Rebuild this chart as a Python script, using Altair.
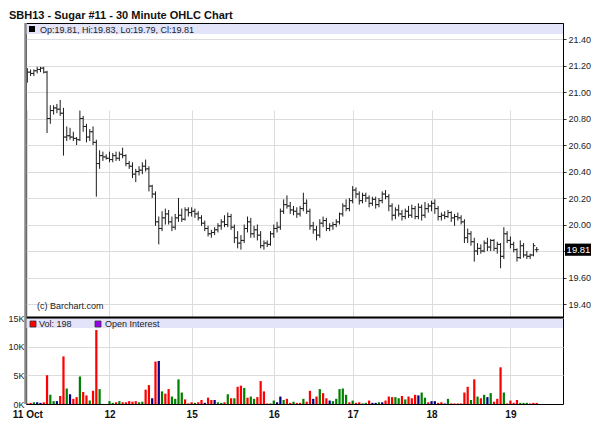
import altair as alt
import pandas as pd

title_text = "SBH13 - Sugar #11 - 30 Minute OHLC Chart"
day_labels = ["11 Oct", "12", "15", "16", "17", "18", "19"]
price_ticks = [19.4, 19.6, 19.8, 20.0, 20.2, 20.4, 20.6, 20.8, 21.0, 21.2, 21.4]
vol_ticks = [0, 5, 10, 15]

# (open, high, low, close) per 30-minute bar, one list per trading day
ohlc_11 = [
    (21.17, 21.18, 21.07, 21.15), (21.15, 21.17, 21.12, 21.14), (21.14, 21.17, 21.12, 21.16),
    (21.16, 21.19, 21.14, 21.17), (21.17, 21.19, 21.15, 21.18), (21.18, 21.19, 21.14, 21.15),
    (21.15, 21.16, 20.69, 20.80), (20.80, 20.90, 20.76, 20.86), (20.86, 20.90, 20.83, 20.88),
    (20.88, 20.91, 20.84, 20.87), (20.87, 20.94, 20.82, 20.84), (20.84, 20.88, 20.52, 20.66),
    (20.66, 20.74, 20.63, 20.67), (20.67, 20.73, 20.64, 20.66), (20.66, 20.70, 20.63, 20.65),
    (20.65, 20.66, 20.60, 20.64), (20.64, 20.86, 20.63, 20.80), (20.80, 20.82, 20.70, 20.74),
    (20.74, 20.76, 20.62, 20.66), (20.66, 20.72, 20.63, 20.70), (20.70, 20.74, 20.60, 20.62),
    (20.62, 20.64, 20.21, 20.46), (20.46, 20.56, 20.42, 20.52), (20.52, 20.55, 20.48, 20.51),
    (20.51, 20.53, 20.49, 20.50),
]
ohlc_12 = [
    (20.50, 20.55, 20.47, 20.49), (20.49, 20.54, 20.47, 20.52), (20.52, 20.55, 20.48, 20.50),
    (20.50, 20.55, 20.48, 20.53), (20.53, 20.58, 20.50, 20.52), (20.52, 20.53, 20.44, 20.46),
    (20.46, 20.48, 20.42, 20.44), (20.44, 20.47, 20.35, 20.38), (20.38, 20.42, 20.32, 20.40),
    (20.40, 20.44, 20.37, 20.41), (20.41, 20.47, 20.38, 20.44), (20.44, 20.49, 20.40, 20.42),
    (20.42, 20.44, 20.25, 20.29), (20.29, 20.30, 20.20, 20.23), (20.23, 20.25, 19.99, 20.02),
    (20.02, 20.06, 19.85, 19.97), (19.97, 20.10, 19.95, 20.05), (20.05, 20.12, 20.00, 20.08),
    (20.08, 20.11, 20.00, 20.02), (20.02, 20.06, 19.95, 19.98), (19.98, 20.08, 19.96, 20.05),
    (20.05, 20.20, 20.02, 20.07), (20.07, 20.12, 20.02, 20.04), (20.04, 20.13, 20.03, 20.11),
    (20.11, 20.13, 20.06, 20.09),
]
ohlc_15 = [
    (20.09, 20.13, 20.06, 20.10), (20.10, 20.12, 20.05, 20.08), (20.08, 20.10, 20.03, 20.05),
    (20.05, 20.07, 19.99, 20.01), (20.01, 20.03, 19.95, 19.97), (19.97, 19.99, 19.91, 19.93),
    (19.93, 19.96, 19.90, 19.94), (19.94, 19.98, 19.92, 19.96), (19.96, 20.01, 19.94, 19.99),
    (19.99, 20.04, 19.96, 20.02), (20.02, 20.07, 19.98, 20.00), (20.00, 20.09, 19.98, 20.06),
    (20.06, 20.08, 19.96, 19.98), (19.98, 20.00, 19.86, 19.90), (19.90, 19.95, 19.82, 19.86),
    (19.86, 19.92, 19.81, 19.88), (19.88, 20.00, 19.86, 19.97), (19.97, 20.06, 19.94, 20.02),
    (20.02, 20.05, 19.90, 19.93), (19.93, 19.99, 19.90, 19.96), (19.96, 20.00, 19.88, 19.92),
    (19.92, 19.95, 19.82, 19.84), (19.84, 19.88, 19.81, 19.86), (19.86, 19.88, 19.83, 19.85),
    (19.85, 19.95, 19.84, 19.93),
]
ohlc_16 = [
    (19.93, 20.00, 19.90, 19.97), (19.97, 20.02, 19.94, 19.98), (19.98, 20.12, 19.96, 20.10),
    (20.10, 20.19, 20.08, 20.15), (20.15, 20.22, 20.12, 20.14), (20.14, 20.17, 20.08, 20.11),
    (20.11, 20.14, 20.07, 20.10), (20.10, 20.13, 20.05, 20.08), (20.08, 20.14, 20.06, 20.12),
    (20.12, 20.24, 20.10, 20.16), (20.16, 20.19, 20.08, 20.10), (20.10, 20.12, 19.96, 19.99),
    (19.99, 20.02, 19.93, 19.96), (19.96, 19.99, 19.88, 19.92), (19.92, 20.04, 19.90, 20.01),
    (20.01, 20.06, 19.98, 20.03), (20.03, 20.05, 19.95, 19.97), (19.97, 20.01, 19.95, 19.99),
    (19.99, 20.02, 19.96, 20.00), (20.00, 20.04, 19.98, 20.02), (20.02, 20.09, 20.00, 20.08),
    (20.08, 20.16, 20.06, 20.14), (20.14, 20.19, 20.10, 20.12), (20.12, 20.20, 20.10, 20.18),
]
ohlc_17 = [
    (20.18, 20.29, 20.16, 20.26), (20.26, 20.28, 20.20, 20.23), (20.23, 20.25, 20.15, 20.18),
    (20.18, 20.24, 20.16, 20.22), (20.22, 20.24, 20.17, 20.20), (20.20, 20.22, 20.13, 20.16),
    (20.16, 20.21, 20.14, 20.19), (20.19, 20.21, 20.12, 20.15), (20.15, 20.20, 20.13, 20.18),
    (20.18, 20.25, 20.16, 20.23), (20.23, 20.26, 20.19, 20.21), (20.21, 20.23, 20.10, 20.14),
    (20.14, 20.16, 20.03, 20.07), (20.07, 20.13, 20.04, 20.11), (20.11, 20.15, 20.06, 20.08),
    (20.08, 20.11, 20.03, 20.06), (20.06, 20.12, 20.04, 20.10), (20.10, 20.14, 20.05, 20.07),
    (20.07, 20.15, 20.05, 20.12), (20.12, 20.14, 20.04, 20.06), (20.06, 20.16, 20.04, 20.13),
    (20.13, 20.15, 20.03, 20.07), (20.07, 20.17, 20.05, 20.12), (20.12, 20.16, 20.09, 20.14),
]
ohlc_18 = [
    (20.14, 20.18, 20.10, 20.16), (20.16, 20.19, 20.08, 20.12), (20.12, 20.14, 20.03, 20.06),
    (20.06, 20.09, 20.03, 20.07), (20.07, 20.10, 20.04, 20.06), (20.06, 20.11, 20.05, 20.09),
    (20.09, 20.10, 20.02, 20.05), (20.05, 20.08, 19.99, 20.06), (20.06, 20.09, 20.03, 20.05),
    (20.05, 20.07, 20.00, 20.02), (20.02, 20.04, 19.86, 19.90), (19.90, 19.97, 19.86, 19.93),
    (19.93, 19.95, 19.84, 19.87), (19.87, 19.90, 19.72, 19.80), (19.80, 19.86, 19.77, 19.82),
    (19.82, 19.85, 19.78, 19.80), (19.80, 19.88, 19.79, 19.86), (19.86, 19.90, 19.80, 19.83),
    (19.83, 19.89, 19.80, 19.88), (19.88, 19.89, 19.80, 19.82), (19.82, 19.87, 19.78, 19.85),
    (19.85, 19.86, 19.67, 19.76), (19.76, 19.98, 19.74, 19.93), (19.93, 19.95, 19.86, 19.88),
]
ohlc_19 = [
    (19.88, 19.91, 19.82, 19.85), (19.85, 19.87, 19.79, 19.81), (19.81, 19.82, 19.72, 19.75),
    (19.75, 19.88, 19.74, 19.84), (19.84, 19.86, 19.75, 19.77), (19.77, 19.80, 19.74, 19.76),
    (19.76, 19.78, 19.74, 19.77), (19.77, 19.86, 19.76, 19.84), (19.81, 19.83, 19.79, 19.81),
]

# volume (thousands) and colour code per bar: r = red, g = green, n = navy
vol_11 = [0.1, 0.2, 0.3, 0.3, 0.2, 0.3, 5.0, 1.6, 0.5, 0.5, 1.4, 8.3, 2.7, 1.7, 0.9, 1.2, 4.8, 2.1, 1.5, 0.6, 2.3, 12.9, 2.6, 0.0, 0.0]
col_11 = "rrgnnrrggnrrgnrrgrrgrrgrg"
vol_12 = [0.5, 0.2, 0.3, 0.5, 0.3, 0.3, 0.5, 0.4, 0.5, 0.3, 0.4, 2.5, 3.3, 1.0, 7.4, 7.5, 2.2, 1.8, 2.6, 1.3, 0.9, 4.3, 2.0, 0.8, 0.1]
col_12 = "ggrgrrrrrggrrnrngrrggggrr"
vol_15 = [0.3, 0.2, 0.3, 0.7, 0.2, 1.1, 0.7, 0.7, 0.3, 0.2, 0.3, 1.7, 1.0, 1.0, 3.0, 3.2, 2.8, 1.1, 1.3, 0.9, 1.2, 4.0, 2.2, 0.1, 0.1]
col_15 = "rgrrnrrnggrgrgrrgrggrrrrg"
vol_16 = [0.6, 0.3, 1.3, 0.7, 0.9, 0.2, 0.4, 0.2, 0.2, 0.9, 0.4, 2.3, 0.9, 1.3, 2.6, 1.9, 1.0, 0.6, 0.5, 0.9, 2.6, 2.7, 1.6, 0.3]
col_16 = "gnngrrgrrgrrnrgrrngggggrg"[:24]
vol_17 = [0.6, 0.2, 0.3, 0.1, 0.2, 0.6, 0.2, 0.2, 0.3, 0.3, 0.6, 1.3, 1.2, 1.2, 1.0, 1.4, 0.8, 1.3, 1.0, 1.6, 1.5, 2.0, 1.1, 0.3]
col_17 = "grrggrnngnrrrggrgrrrnggr"
vol_18 = [0.5, 0.5, 0.2, 0.3, 0.1, 0.9, 0.1, 0.1, 0.1, 0.1, 2.0, 3.0, 0.7, 4.3, 1.3, 1.0, 1.6, 1.2, 1.9, 0.4, 0.9, 6.4, 2.0, 0.1]
col_18 = "nnrrngrrrrrrgrgrgngrrrgr"
vol_19 = [0.6, 0.2, 0.7, 0.2, 0.2, 0.2, 0.1, 0.2, 0.198]
col_19 = "rrrgggrrr"

days_ohlc = [ohlc_11, ohlc_12, ohlc_15, ohlc_16, ohlc_17, ohlc_18, ohlc_19]
days_vol = [vol_11, vol_12, vol_15, vol_16, vol_17, vol_18, vol_19]
days_col = [col_11, col_12, col_15, col_16, col_17, col_18, col_19]

rows = []
starts = []
idx = 0
for o_list, v_list, c_list in zip(days_ohlc, days_vol, days_col):
    starts.append(idx)
    for (op, hi, lo, cl), v, c in zip(o_list, v_list, c_list):
        rows.append(dict(i=idx, open=op, high=hi, low=lo, close=cl, vol=v, col=c))
        idx += 1
df = pd.DataFrame(rows)
df["ol"] = df["i"] - 0.6
df["cr"] = df["i"] + 0.6
df["vl"] = df["i"] - 0.34
df["vr"] = df["i"] + 0.34
df["zero"] = 0.0

last = df.iloc[-1]
last_txt = f"{last['close']:.2f}"
last_df = pd.DataFrame([dict(close=last["close"], ylo=last["close"] - 0.046,
                             yhi=last["close"] + 0.046, txt=last_txt)])
legend_price = f"Op:{last['open']:.2f}, Hi:{last['high']:.2f}, Lo:{last['low']:.2f}, Cl:{last['close']:.2f}"
legend_vol = f"Vol: {round(last['vol'] * 1000)}"

W, H = 537, 381
P_BOT = 294   # bottom of price panel (view px)
V_TOP = 295   # top of volume panel (view px)
FONT = "Liberation Sans"
GRID = "#DCDCDC"

label_expr = " : ".join(f"datum.value == {s} ? '{l}'" for s, l in zip(starts, day_labels)) + " : ''"
# the tick label hidden under the last-price box is left blank
hidden_tick = round(last["close"] / 0.2) * 0.2
price_label_expr = f"abs(datum.value - {hidden_tick:.2f}) < 0.001 ? '' : format(datum.value, '.2f')"

xs = alt.Scale(domain=[-0.4, 163], nice=False, zero=False)
ps = alt.Scale(domain=[19.302, 21.5208], range=[P_BOT, 0], nice=False, zero=False)
vs = alt.Scale(domain=[0, 15], range=[H, V_TOP], nice=False, zero=False)

xax = alt.Axis(values=starts, labelExpr=label_expr, grid=True, gridColor=GRID, tickSize=0,
               labelPadding=5, labelFontSize=10, labelFontWeight="bold", labelColor="#111",
               labelFont=FONT, domainColor="#000", title=None, labelFlush=False, labelOverlap=False)
pax = alt.Axis(orient="right", values=price_ticks, labelExpr=price_label_expr, grid=True,
               gridColor=GRID, tickSize=3, tickColor="#333", labelPadding=2, labelFontSize=9,
               labelColor="#222", labelFont=FONT, domainColor="#000", title=None,
               labelFlush=False, labelOverlap=False)
vax = alt.Axis(orient="left", values=vol_ticks, labelExpr="datum.value + 'K'", grid=True,
               gridColor=GRID, tickSize=0, labelPadding=2, labelFontSize=9, labelColor="#222",
               labelFont=FONT, domain=False, title=None, labelFlush=False, labelOverlap=False)

base = alt.Chart(df)
X = lambda f: alt.X(f"{f}:Q", scale=xs, axis=xax)
BAR_COL = "#1c1c1c"

hl = base.mark_rule(color=BAR_COL, strokeWidth=1).encode(
    x=X("i"), y=alt.Y("low:Q", scale=ps, axis=pax), y2="high:Q")
op_t = base.mark_rule(color=BAR_COL, strokeWidth=1).encode(
    x=X("ol"), x2="i:Q", y=alt.Y("open:Q", scale=ps, axis=pax))
cl_t = base.mark_rule(color=BAR_COL, strokeWidth=1).encode(
    x=X("i"), x2="cr:Q", y=alt.Y("close:Q", scale=ps, axis=pax))
box = alt.Chart(last_df).mark_rect(color="#000").encode(
    x=alt.value(W + 2), x2=alt.value(W + 29),
    y=alt.Y("ylo:Q", scale=ps, axis=pax), y2="yhi:Q")
box_t = alt.Chart(last_df).mark_text(color="#fff", fontSize=9.5, font=FONT, align="center",
                                     baseline="middle").encode(
    x=alt.value(W + 15.5), y=alt.Y("close:Q", scale=ps, axis=pax), text="txt:N")
price = alt.layer(hl, op_t, cl_t, box, box_t)

vbars = base.mark_rect().encode(
    x=X("vl"), x2="vr:Q", y=alt.Y("vol:Q", scale=vs, axis=vax), y2="zero:Q",
    color=alt.Color("col:N", scale=alt.Scale(domain=["r", "g", "n"],
                                             range=["#FF0000", "#008000", "#000080"]), legend=None))
volume = alt.layer(vbars)

one = pd.DataFrame({"k": [0]})


def rect(x, x2, y, y2, color, stroke=None):
    kw = dict(color=color)
    if stroke:
        kw.update(stroke=stroke, strokeWidth=0.8)
    return alt.Chart(one).mark_rect(**kw).encode(
        x=alt.value(x), x2=alt.value(x2), y=alt.value(y), y2=alt.value(y2))


def text(t, x, y, size=9, weight="normal", color="#222", baseline="middle"):
    return alt.Chart(one).mark_text(text=t, fontSize=size, fontWeight=weight, color=color,
                                    align="left", baseline=baseline, font=FONT).encode(
        x=alt.value(x), y=alt.value(y))


band_p = rect(0, W, 1, 11, "#E3E3FA")
band_v = rect(0, W, V_TOP + 1, V_TOP + 10, "#E3E3FA")
sep = alt.Chart(one).mark_rule(color="#000", strokeWidth=2).encode(
    x=alt.value(0), x2=alt.value(W), y=alt.value(P_BOT + 0.5))
left_border = alt.Chart(one).mark_rule(color="#8a8a8a", strokeWidth=2.5).encode(
    x=alt.value(-0.5), y=alt.value(0), y2=alt.value(H))

sq_p = rect(3, 9, 3, 9, "#000")
tx_p = text(legend_price, 14, 6.5)
sq_v = rect(4, 10, V_TOP + 3, V_TOP + 9, "#FF0000", stroke="#333")
tx_v = text(legend_vol, 13, V_TOP + 6)
sq_oi = rect(69, 75, V_TOP + 3, V_TOP + 9, "#9900EE", stroke="#333")
tx_oi = text("Open Interest", 79, V_TOP + 6)
copy = text("(c) Barchart.com", 11, 283)
ttl = text(title_text, -17, -4, size=11, weight="bold", color="#111", baseline="alphabetic")

chart = alt.layer(
    band_p, band_v, price, volume, sep, left_border,
    sq_p, tx_p, sq_v, tx_v, sq_oi, tx_oi, copy, ttl
).resolve_scale(y="independent").properties(
    width=W, height=H,
    autosize=alt.AutoSizeParams(type="none"),
    padding={"left": 18, "top": 15, "right": 28, "bottom": 20},
    background="white",
).configure_view(stroke="#000", strokeWidth=1)

chart.save("out.html", embed_options={"renderer": "svg", "actions": False})
